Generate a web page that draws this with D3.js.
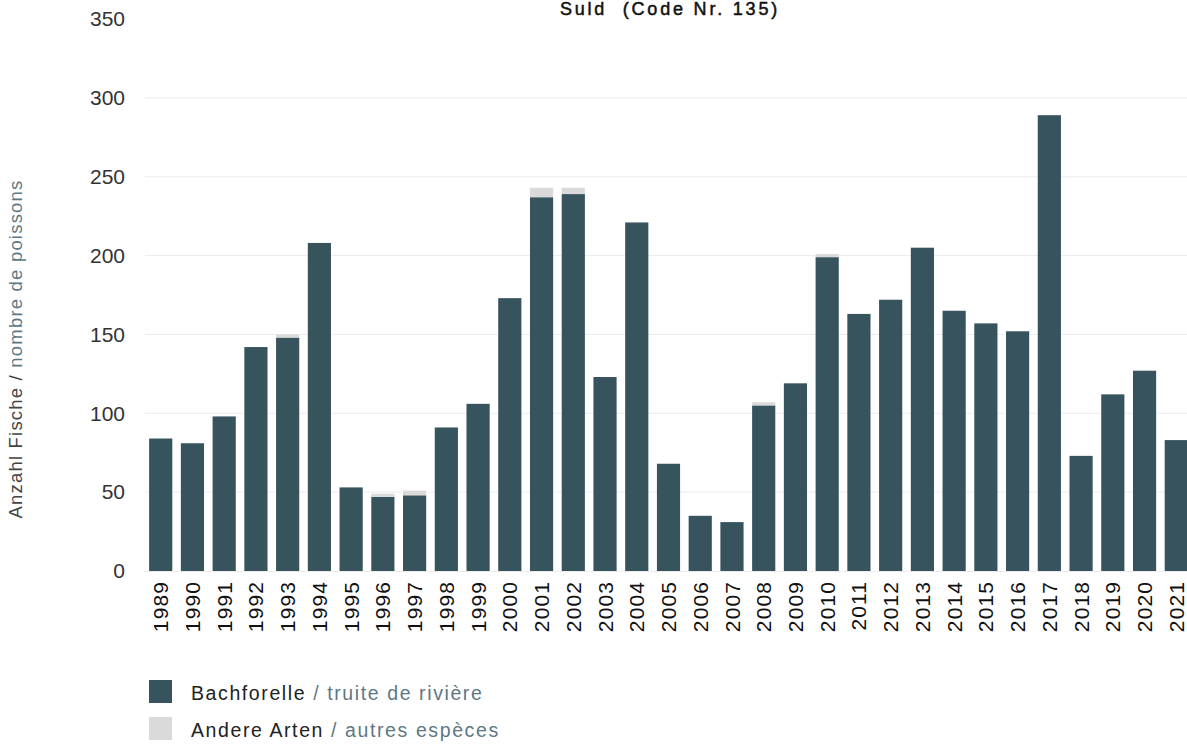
<!DOCTYPE html>
<html><head><meta charset="utf-8">
<script src="https://cdn.jsdelivr.net/npm/d3@7"></script>
<style>body{margin:0;background:#fff;} svg{display:block;font-family:"Liberation Sans",Arial,sans-serif;}</style>
</head><body><svg id="c" width="1187" height="744"></svg>
<script>
const years = ["1989","1990","1991","1992","1993","1994","1995","1996","1997","1998","1999","2000","2001","2002","2003","2004","2005","2006","2007","2008","2009","2010","2011","2012","2013","2014","2015","2016","2017","2018","2019","2020","2021"];
const bachforelle = [84,81,98,142,148,208,53,47,48,91,106,173,237,239,123,221,68,35,31,105,119,199,163,172,205,165,157,152,289,73,112,127,83];
const andere = [0,0,0,0,2,0,0,2,3,0,0,0,6,4,0,0,0,0,0,2,0,2,0,0,0,0,0,0,0,0,0,0,0];
const yTicks = [0,50,100,150,200,250,300,350];
const seriesNames = [["Bachforelle"," / truite de rivière"],["Andere Arten"," / autres espèces"]];
const colors = ["#36535e","#dadadb"];
const titleText = "Suld\u00a0\u00a0(Code Nr. 135)";

const svg = d3.select("#c");
const x = d3.scaleBand().domain(years).range([145,1192]).paddingInner(0.27).paddingOuter(0.13);
const y = d3.scaleLinear().domain([0,350]).range([571,19]);

// gridlines
svg.append("g").selectAll("line").data(yTicks.filter(d=>d>0 && d<350)).join("line")
  .attr("x1",145).attr("x2",1187).attr("y1",d=>y(d)).attr("y2",d=>y(d))
  .attr("stroke","#ececec").attr("stroke-width",1);
svg.append("line").attr("x1",145).attr("x2",1187).attr("y1",y(0)+0.5).attr("y2",y(0)+0.5).attr("stroke","#ececec");

// y axis
const ya = svg.append("g").attr("transform","translate(125,0)")
  .call(d3.axisLeft(y).tickValues(yTicks).tickSize(0).tickPadding(0));
ya.select(".domain").remove();
ya.selectAll("text").attr("font-size",21).attr("fill","#333").attr("font-family","Liberation Sans, Arial, sans-serif");

// stacked bars
const stackData = years.map((yr,i)=>({year:yr, b:bachforelle[i], a:andere[i]}));
const stack = d3.stack().keys(["b","a"])(stackData);
svg.append("g").selectAll("g").data(stack).join("g").attr("fill",(d,i)=>colors[i])
  .selectAll("rect").data(d=>d).join("rect")
  .attr("x",d=>x(d.data.year)).attr("width",x.bandwidth())
  .attr("y",d=>y(d[1])).attr("height",d=>Math.max(0,y(d[0])-y(d[1])));

// x axis
const xa = svg.append("g").attr("transform",`translate(0,${y(0)})`)
  .call(d3.axisBottom(x).tickSize(0).tickPadding(0));
xa.select(".domain").remove();
xa.selectAll("text").attr("transform","rotate(-90)").attr("text-anchor","end")
  .attr("x",-10).attr("y",0).attr("dy","0.36em").attr("font-size",21).attr("letter-spacing",1.1).attr("fill","#111")
  .attr("font-family","Liberation Sans, Arial, sans-serif");

// title
svg.append("text").attr("x",670).attr("y",15).attr("text-anchor","middle")
  .attr("font-size",18).attr("letter-spacing",2.8).attr("fill","#111").attr("stroke","#111").attr("stroke-width",0.5)
  .text(titleText);

// y label
const yl = svg.append("text").attr("transform","translate(22,349) rotate(-90)").attr("text-anchor","middle")
  .attr("font-size",18.5).attr("letter-spacing",1.2);
yl.append("tspan").attr("fill","#444").text("Anzahl Fische / ");
yl.append("tspan").attr("fill","#5d7884").text("nombre de poissons");

// legend
const lg = svg.append("g").selectAll("g").data(seriesNames).join("g")
  .attr("transform",(d,i)=>`translate(149,${680+i*37})`);
lg.append("rect").attr("width",23).attr("height",23).attr("fill",(d,i)=>colors[i]);
const lt = lg.append("text").attr("x",42).attr("y",20).attr("font-size",19.5).attr("letter-spacing",1.6);
lt.append("tspan").attr("fill","#222").text(d=>d[0]);
lt.append("tspan").attr("fill","#5d7884").text(d=>d[1]);
</script></body></html>
